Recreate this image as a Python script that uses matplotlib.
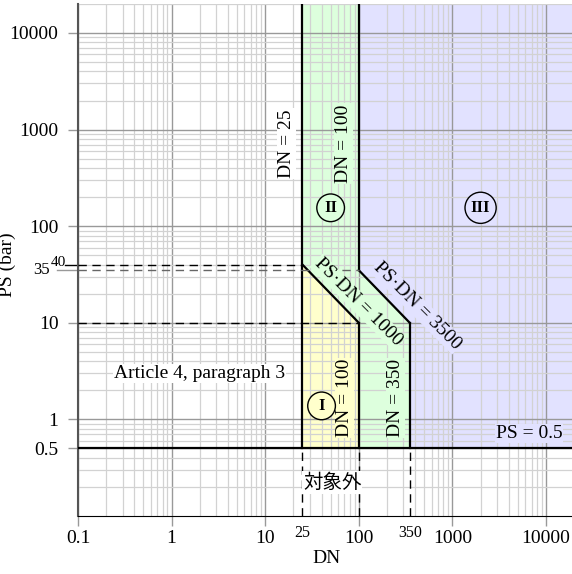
import matplotlib
matplotlib.use("Agg")
import matplotlib.pyplot as plt
import matplotlib.transforms as mtransforms

plt.rcParams['font.family'] = ['Liberation Serif', 'Noto Sans CJK JP']

# limits of the DN / PS categories
dn_limits = [25, 100, 350]
ps_min = 0.5
ps_top = 20000
dn_right = 20000
corner_ps = [40, 10, 35, 10]      # PS at the PS*DN=1000 and PS*DN=3500 ends
x_ticks = [0.1, 1, 10, 100, 1000, 10000]
x_labels = ['0.1', '1', '10', '100', '1000', '10000']
y_ticks = [0.5, 1, 10, 100, 1000, 10000]
y_labels = ['0.5', '1', '10', '100', '1000', '10000']
small_x = [25, 350]
small_y = [35, 40]

c_yellow = '#ffffcc'
c_green = '#ddffdd'
c_blue = '#e2e2ff'

fig = plt.figure(figsize=(5.72, 5.74), dpi=100)
ax = fig.add_axes([78 / 572, 58 / 574, 496.2 / 572, 512.1 / 574])
ax.set_xscale('log')
ax.set_yscale('log')
ax.set_xlim(0.1, dn_right)
ax.set_ylim(0.1, ps_top)

d1, d2, d3 = dn_limits
p40, p10a, p35, p10b = corner_ps

# coloured regions
ax.fill([d1, d2, d2, d1], [ps_min, ps_min, p10a, p40], color=c_yellow, lw=0, zorder=0.5)
ax.fill([d1, d1, d2, d2, d3, d3, d2, d2],
        [p40, ps_top, ps_top, p35, p10b, ps_min, ps_min, p10a],
        color=c_green, lw=0, zorder=0.5)
ax.fill([d2, d2, d3, d3, dn_right, dn_right],
        [ps_top, p35, p10b, ps_min, ps_min, ps_top],
        color=c_blue, lw=0, zorder=0.5)

# grid
ax.set_axisbelow('line')
ax.grid(True, which='major', color='#999999', lw=1.0)
ax.grid(True, which='minor', color='#d2d2d2', lw=0.9)

# boundaries
lk = dict(color='black', lw=1.6, zorder=3)
ax.plot([d1, d1], [ps_min, ps_top], **lk)
ax.plot([d2, d2], [p35, ps_top], **lk)
ax.plot([d2, d2], [ps_min, p10a], **lk)
ax.plot([d3, d3], [ps_min, p10b], **lk)
ax.plot([0.1, dn_right], [ps_min, ps_min], **lk)
ax.plot([d1, d2], [p40, p10a], **lk)
ax.plot([d2, d3], [p35, p10b], **lk)

# dashed helper lines
dk = dict(lw=1.0, ls=(0, (6, 4)), zorder=3)
ax.plot([0.1, d1], [p40, p40], color='black', **dk)
ax.plot([0.1, d2], [p35, p35], color='#666666', **dk)
ax.plot([0.1, d2], [p10a, p10a], color='black', **dk)
for d in dn_limits:
    ax.plot([d, d], [0.1, ps_min], color='black', **dk)

# ticks
ax.set_xticks(x_ticks)
ax.set_xticklabels(x_labels)
ax.set_yticks(y_ticks)
ax.set_yticklabels(y_labels)
ax.tick_params(which='major', direction='out', length=7, width=1,
               color='#999999', labelsize=14)
ax.tick_params(axis='x', which='major', pad=3)
ax.tick_params(axis='y', which='major', pad=7)
ax.tick_params(which='minor', length=0)
for s in ['top', 'right']:
    ax.spines[s].set_visible(False)
ax.spines['left'].set_color('#555555')
ax.spines['left'].set_linewidth(1.5)
ax.spines['bottom'].set_color('black')

bx = mtransforms.blended_transform_factory(ax.transData, ax.transAxes)
by = mtransforms.blended_transform_factory(ax.transAxes, ax.transData)
for v in small_x:
    ax.text(v, -0.033, str(v), transform=bx, ha='center', va='center', fontsize=11.5)
ax.text(-0.074, small_y[0], str(small_y[0]), transform=by, ha='center', va='center', fontsize=12)
ax.text(-0.040, small_y[1] * 1.04, str(small_y[1]), transform=by, ha='center', va='center', fontsize=11)
ax.plot([-0.043, 0], [small_y[0]] * 2, transform=by, color='#999999', lw=1, clip_on=False)
ax.plot([-0.027, 0], [small_y[1]] * 2, transform=by, color='black', lw=1, clip_on=False)

ax.set_xlabel('DN', fontsize=14, labelpad=2)
ax.set_ylabel('PS (bar)', fontsize=14, labelpad=2)
ax.yaxis.set_label_coords(-0.125, 0.49)

# labels on the chart
def lab(x, y, s, fc, rot=0, **kw):
    ax.text(x, y, s, rotation=rot, ha='center', va='center', fontsize=14, zorder=4,
            rotation_mode='anchor',
            bbox=dict(boxstyle='square,pad=0.05', fc=fc, ec='none'), **kw)

lab(17, 720, 'DN = 25', 'white', rot=90)
lab(68, 720, 'DN = 100', c_green, rot=90)
lab(70, 1.67, 'DN = 100', c_yellow, rot=90)
lab(244, 1.67, 'DN = 350', c_green, rot=90)
lab(98, 16.4, 'PS·DN = 1000', c_green, rot=-45)
lab(419, 14.9, 'PS·DN = 3500', c_blue, rot=-45)
lab(2.0, 3.0, 'Article 4, paragraph 3', 'white')
ax.text(15000, 0.72, 'PS = 0.5', ha='right', va='center', fontsize=14, zorder=4,
        bbox=dict(boxstyle='square,pad=0.05', fc=c_blue, ec='none'))
ax.text(52, 0.22, '対象外', ha='center', va='center', fontsize=14, zorder=4,
        family=['Noto Sans CJK JP'],
        bbox=dict(boxstyle='square,pad=0.05', fc='white', ec='none'))

for x, y, s, fc in [(40, 1.38, 'I', c_yellow), (50, 155, 'II', c_green), (2000, 155, 'III', c_blue)]:
    ax.text(x, y, s, ha='center', va='center', fontsize=12, fontweight='bold', zorder=4,
            bbox=dict(boxstyle='circle,pad=0.35', fc=fc, ec='black', lw=1))

fig.savefig('out.png', dpi=100)
